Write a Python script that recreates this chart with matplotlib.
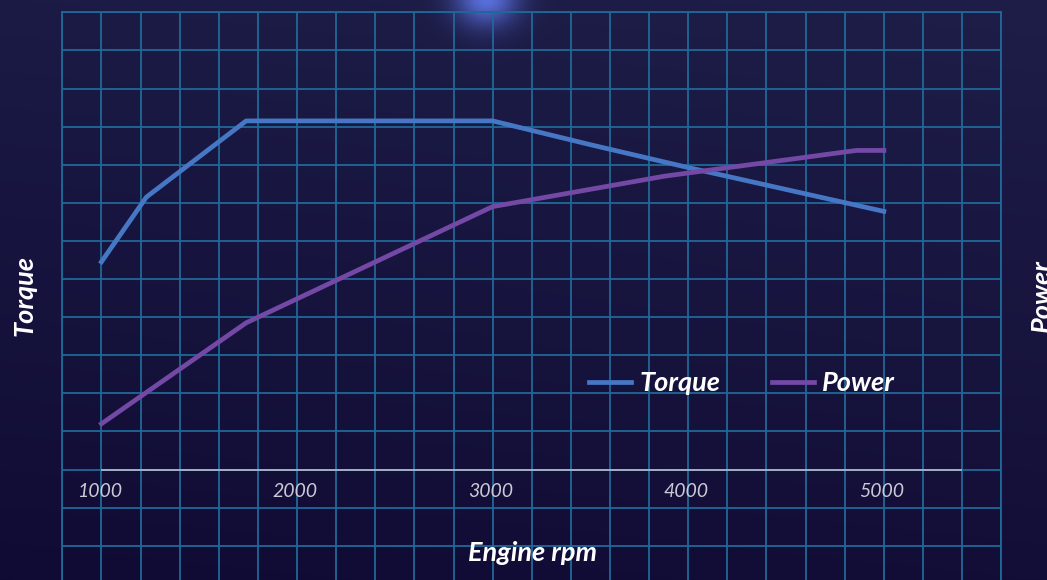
import numpy as np
import matplotlib
matplotlib.use("Agg")
import matplotlib.pyplot as plt
from matplotlib.ticker import MultipleLocator

# data (rpm, arbitrary units)
torque_rpm = [1000, 1230, 1740, 3000, 3500, 4000, 4500, 5000]
torque_val = [218, 286, 366, 366, 341, 317, 294, 271]
power_rpm = [1000, 1740, 3000, 3880, 4860, 5000]
power_val = [48, 154, 276, 308, 335, 335]
tick_rpm = [1000, 2000, 3000, 4000, 5000]

W, H = 1047, 580
fig = plt.figure(figsize=(W / 100, H / 100), dpi=100)

# background: vertical gradient + glow at the top
bg = fig.add_axes([0, 0, 1, 1])
yy, xx = np.mgrid[0:H, 0:W]
t = yy / H
top = np.array([30, 30, 72]) / 255
bot = np.array([19, 14, 56]) / 255
img = top[None, None, :] * (1 - t[..., None]) + bot[None, None, :] * t[..., None]
img = img - (1 - xx[..., None] / W) * 0.012
glow = 0.85 * np.exp(-(((xx - 486) / 32.0) ** 2 + ((yy + 2) / 28.0) ** 2))
img = img + glow[..., None] * (np.array([100, 125, 245]) / 255 - img)
bg.imshow(np.clip(img, 0, 1), aspect="auto", extent=[0, W, H, 0])
bg.axis("off")

# chart axes, grid every 200 rpm / 40 units
ax = fig.add_axes([62.3 / W, 0, (1001.2 - 62.3) / W, (580 - 12.3) / H])
ax.set_facecolor("none")
ax.set_xlim(800, 5600)
ax.set_ylim(-116, 480)
ax.xaxis.set_major_locator(MultipleLocator(200))
ax.yaxis.set_major_locator(MultipleLocator(40))
grid_c = "#1f6898"
ax.grid(True, color=grid_c, lw=1.3)
ax.tick_params(length=0, labelbottom=False, labelleft=False)
for s in ["left", "right", "top"]:
    ax.spines[s].set_color(grid_c)
    ax.spines[s].set_linewidth(1.3)
ax.spines["bottom"].set_visible(False)

ax.hlines(0, 1000, 5400, color="#b9bccb", lw=1.2, zorder=3)
for r in tick_rpm:
    ax.text(r - 12, -23, str(r), ha="center", va="center", color="#c9cad6",
            fontsize=14, family="Lato", style="italic", zorder=3)

ax.plot(torque_rpm, torque_val, color="#4677c4", lw=3.4, label="Torque",
        solid_capstyle="projecting", zorder=4)
ax.plot(power_rpm, power_val, color="#7449a6", lw=3.4, label="Power",
        solid_capstyle="projecting", zorder=4)

fs = 19.5
lab = dict(color="white", fontsize=fs, family="Lato", weight="bold", style="italic")
leg = ax.legend(loc="center left", bbox_to_anchor=((589 - 62.3) / (1001.2 - 62.3), (580 - 383) / (580 - 12.3)),
                ncol=2, frameon=False, borderpad=0, borderaxespad=0,
                handlelength=1.55, handletextpad=0.3, columnspacing=1.9,
                prop=dict(family="Lato", weight="bold", style="italic", size=fs))
for txt in leg.get_texts():
    txt.set_color("white")

fig.text(532 / W, 1 - 553 / H, "Engine rpm", ha="center", va="center", **lab)
fig.text(25 / W, 1 - 295 / H, "Torque", ha="center", va="center", rotation=90, **lab)
fig.text(1042 / W, 1 - 296 / H, "Power", ha="center", va="center", rotation=90, **lab)

fig.savefig("out.png", dpi=100)
